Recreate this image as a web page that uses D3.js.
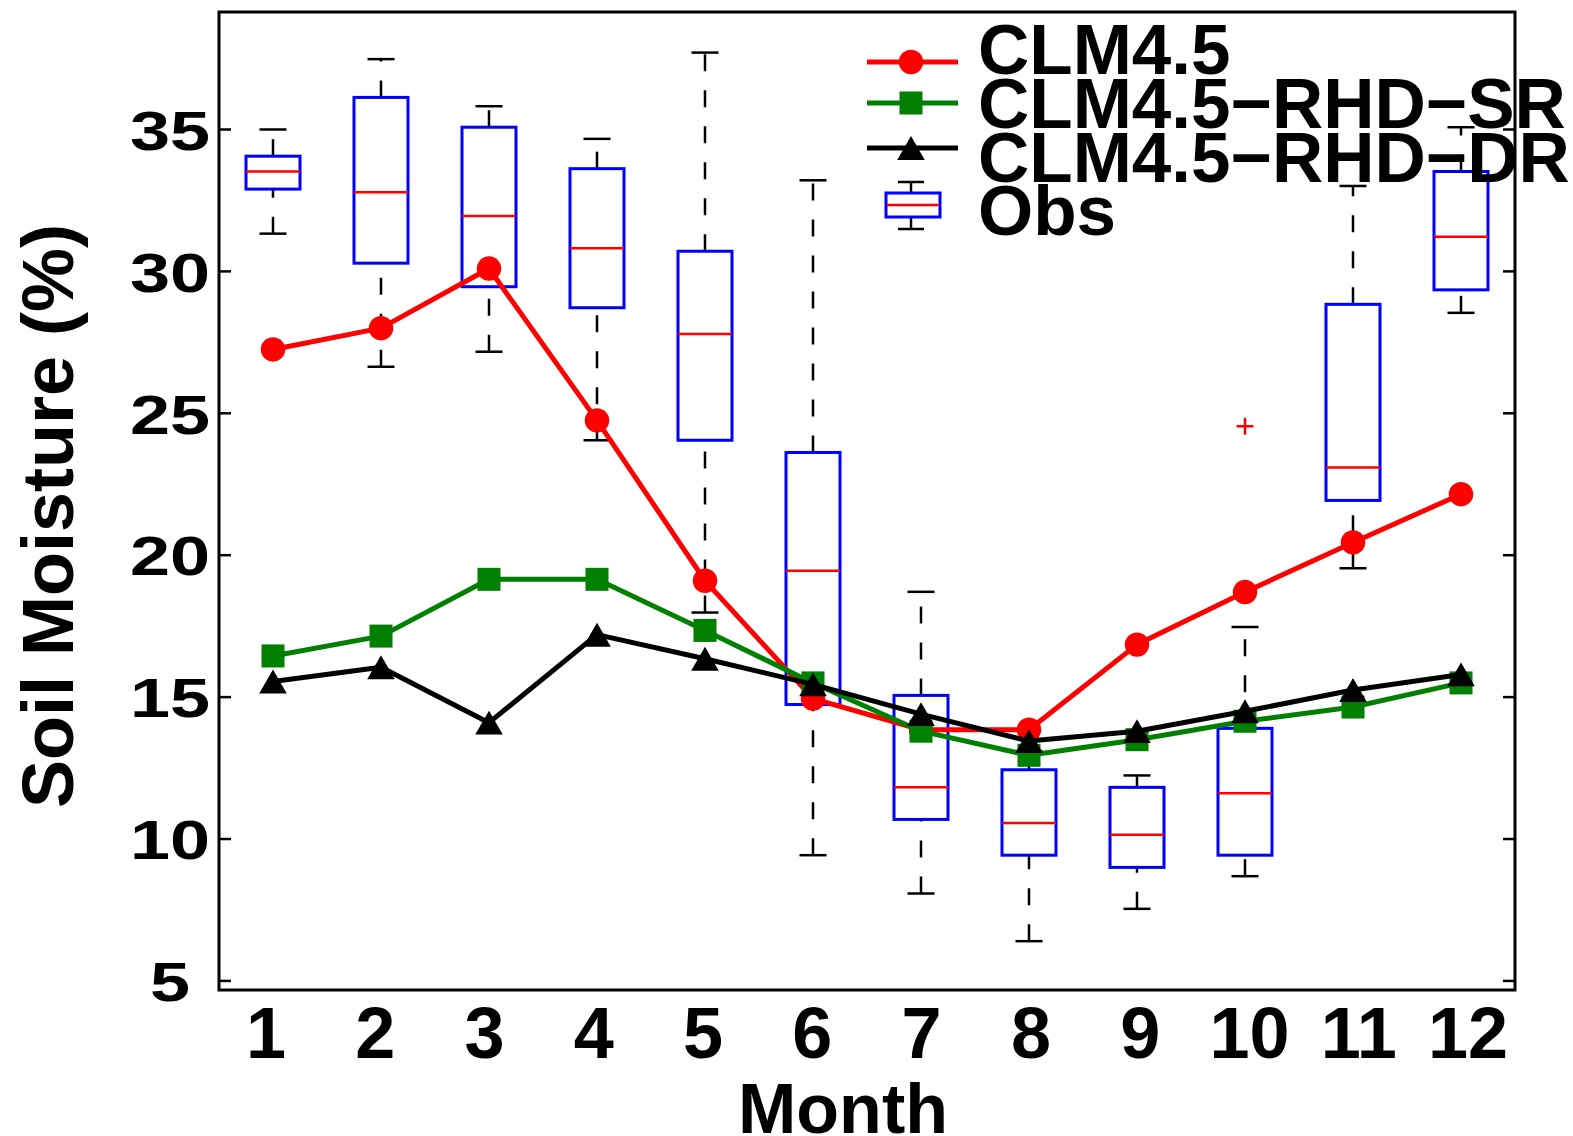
<!DOCTYPE html>
<html>
<head>
<meta charset="utf-8">
<script src="https://cdn.jsdelivr.net/npm/d3@7"></script>
<style>
  body { margin: 0; background: #fff; }
  svg text { font-family: "Liberation Sans", Arial, sans-serif; font-weight: bold; }
</style>
</head>
<body>
<script>
// monthly soil moisture (%)
var months = [1, 2, 3, 4, 5, 6, 7, 8, 9, 10, 11, 12];
var clm45 = [27.25, 28.0, 30.1, 24.75, 19.1, 14.95, 13.85, 13.85, 16.85, 18.7, 20.45, 22.15];
var clmSR = [16.45, 17.15, 19.15, 19.15, 17.35, 15.5, 13.8, 12.95, 13.5, 14.15, 14.65, 15.5];
var clmDR = [15.55, 16.05, 14.1, 17.2, 16.35, 15.45, 14.4, 13.45, 13.8, 14.5, 15.25, 15.8];

// observed boxplot stats
var obsMin = [31.33, 26.64, 27.17, 24.05, 17.98, 9.43, 8.08, 6.40, 7.54, 8.69, 19.54, 28.54];
var obsQ1  = [32.90, 30.29, 29.46, 28.72, 24.05, 14.74, 10.69, 9.43, 9.00, 9.43, 21.93, 29.35];
var obsMed = [33.52, 32.79, 31.95, 30.82, 27.79, 19.45, 11.82, 10.56, 10.15, 11.61, 23.09, 31.22];
var obsQ3  = [34.06, 36.13, 35.08, 33.62, 30.71, 23.62, 15.06, 12.44, 11.82, 13.90, 28.84, 33.52];
var obsMax = [35.00, 37.48, 35.82, 34.67, 37.71, 33.21, 18.71, 13.10, 12.24, 17.47, 33.01, 35.08];
var outlierMonths = [10];
var outlierValues = [24.54];

var yTicks = [5, 10, 15, 20, 25, 30, 35];
var seriesNames = ["CLM4.5", "CLM4.5\u2212RHD\u2212SR", "CLM4.5\u2212RHD\u2212DR", "Obs"];

// triangle centred on its bounding box (matlab style '^')
var symbolTri = {
    draw: function(ctx, size) {
        var s = Math.sqrt(size * 4 / Math.sqrt(3));
        var hh = s * Math.sqrt(3) / 2;
        ctx.moveTo(0, -hh / 2);
        ctx.lineTo(s / 2, hh / 2);
        ctx.lineTo(-s / 2, hh / 2);
        ctx.closePath();
    }
};

draw_chart();

function draw_chart() {
    var w = 1573, h = 1136;
    var axL = 219, axR = 1515, axT = 12, axB = 990;

    var svg = d3.select("body").append("svg")
        .attr("width", w)
        .attr("height", h);

    var x = d3.scaleLinear().domain([0.5, 12.5]).range([axL, axR]);
    var y = d3.scaleLinear().domain([4.68, 39.14]).range([axB, axT]);
    // the exported tick labels sit a little off the box centres
    var xLab = d3.scaleLinear().domain([1, 12]).range([266, 1468]);

    // y tick labels: centred, squashed vertically like the original export
    svg.append("g").selectAll("text")
        .data(yTicks).enter().append("text")
        .attr("transform", function(d) { return "translate(170," + y(d) + ") scale(1,0.78)"; })
        .attr("y", 26)
        .attr("text-anchor", "middle")
        .attr("font-size", 72)
        .text(function(d) { return d; });

    // x tick labels
    svg.append("g").selectAll("text")
        .data(months).enter().append("text")
        .attr("x", function(d) { return xLab(d); })
        .attr("y", 1058)
        .attr("text-anchor", "middle")
        .attr("font-size", 72)
        .text(function(d) { return d; });

    svg.append("text")
        .attr("x", 843).attr("y", 1133)
        .attr("text-anchor", "middle")
        .attr("font-size", 70)
        .text("Month");

    svg.append("text")
        .attr("transform", "translate(73,516) rotate(-90)")
        .attr("text-anchor", "middle")
        .attr("font-size", 72)
        .text("Soil Moisture (%)");

    // inward ticks on left and right
    var tk = svg.append("g").attr("stroke", "#000").attr("stroke-width", 2.5);
    tk.selectAll(".tl").data(yTicks).enter().append("line")
        .attr("x1", axL).attr("x2", axL + 12)
        .attr("y1", function(d) { return y(d); })
        .attr("y2", function(d) { return y(d); });
    tk.selectAll(".tr").data(yTicks).enter().append("line")
        .attr("x1", axR).attr("x2", axR - 12)
        .attr("y1", function(d) { return y(d); })
        .attr("y2", function(d) { return y(d); });

    // boxplots
    var boxW = x(1.25) - x(1);
    var capW = x(1.125) - x(1);
    var box = svg.append("g");
    months.forEach(function(m, i) {
        var cx = x(m);
        // whiskers: drawn from lower to higher value
        box.append("line")
            .attr("x1", cx).attr("x2", cx)
            .attr("y1", y(obsMin[i])).attr("y2", y(obsQ1[i]))
            .attr("stroke", "#000").attr("stroke-width", 2.5)
            .attr("stroke-dasharray", "17,19");
        box.append("line")
            .attr("x1", cx).attr("x2", cx)
            .attr("y1", y(obsQ3[i])).attr("y2", y(obsMax[i]))
            .attr("stroke", "#000").attr("stroke-width", 2.5)
            .attr("stroke-dasharray", "17,19");
        [obsMin[i], obsMax[i]].forEach(function(v) {
            box.append("line")
                .attr("x1", cx - capW).attr("x2", cx + capW)
                .attr("y1", y(v)).attr("y2", y(v))
                .attr("stroke", "#000").attr("stroke-width", 2.5);
        });
        box.append("rect")
            .attr("x", cx - boxW).attr("width", 2 * boxW)
            .attr("y", y(obsQ3[i]))
            .attr("height", y(obsQ1[i]) - y(obsQ3[i]))
            .attr("fill", "none")
            .attr("stroke", "#0000ff").attr("stroke-width", 3);
        box.append("line")
            .attr("x1", cx - boxW).attr("x2", cx + boxW)
            .attr("y1", y(obsMed[i])).attr("y2", y(obsMed[i]))
            .attr("stroke", "#ff0000").attr("stroke-width", 2.5);
    });

    outlierMonths.forEach(function(m, i) {
        var px = x(m), py = y(outlierValues[i]);
        box.append("path")
            .attr("d", "M" + (px - 8.5) + "," + py + "H" + (px + 8.5) + "M" + px + "," + (py - 8.5) + "V" + (py + 8.5))
            .attr("stroke", "#ff0000").attr("stroke-width", 2.5);
    });

    // model lines
    var line = d3.line()
        .x(function(d, i) { return x(months[i]); })
        .y(function(d) { return y(d); });

    var series = [
        { values: clm45, color: "#ff0000", marker: d3.symbolCircle, size: 470 },
        { values: clmSR, color: "#008000", marker: d3.symbolSquare, size: 530 },
        { values: clmDR, color: "#000000", marker: symbolTri, size: 330 }
    ];

    series.forEach(function(s) {
        var g = svg.append("g");
        g.append("path")
            .datum(s.values)
            .attr("d", line)
            .attr("fill", "none")
            .attr("stroke", s.color)
            .attr("stroke-width", 5)
            .attr("stroke-linejoin", "round");
        g.selectAll("path.mk")
            .data(s.values).enter().append("path")
            .attr("class", "mk")
            .attr("transform", function(d, i) { return "translate(" + x(months[i]) + "," + y(d) + ")"; })
            .attr("d", d3.symbol().type(s.marker).size(s.size))
            .attr("fill", s.color);
    });

    // axes box
    svg.append("rect")
        .attr("x", axL).attr("y", axT)
        .attr("width", axR - axL).attr("height", axB - axT)
        .attr("fill", "none")
        .attr("stroke", "#000").attr("stroke-width", 3);

    // legend
    var lg = svg.append("g");
    var rowY = [62, 103, 148];
    series.forEach(function(s, i) {
        lg.append("line")
            .attr("x1", 867).attr("x2", 958)
            .attr("y1", rowY[i]).attr("y2", rowY[i])
            .attr("stroke", s.color).attr("stroke-width", 5);
        lg.append("path")
            .attr("transform", "translate(911," + rowY[i] + ")")
            .attr("d", d3.symbol().type(s.marker).size(s.size))
            .attr("fill", s.color);
    });
    // obs legend icon
    lg.append("line").attr("x1", 911).attr("x2", 911).attr("y1", 182).attr("y2", 229)
        .attr("stroke", "#000").attr("stroke-width", 2.5);
    lg.append("line").attr("x1", 898).attr("x2", 924).attr("y1", 182).attr("y2", 182)
        .attr("stroke", "#000").attr("stroke-width", 2.5);
    lg.append("line").attr("x1", 898).attr("x2", 924).attr("y1", 229).attr("y2", 229)
        .attr("stroke", "#000").attr("stroke-width", 2.5);
    lg.append("rect").attr("x", 886).attr("y", 193).attr("width", 54).attr("height", 24)
        .attr("fill", "#fff").attr("stroke", "#0000ff").attr("stroke-width", 3);
    lg.append("line").attr("x1", 887).attr("x2", 939).attr("y1", 205).attr("y2", 205)
        .attr("stroke", "#ff0000").attr("stroke-width", 2.5);

    lg.selectAll("text.lab")
        .data(seriesNames).enter().append("text")
        .attr("class", "lab")
        .attr("x", 978)
        .attr("y", function(d, i) { return [74, 128, 182, 235][i]; })
        .attr("font-size", 71)
        .text(function(d) { return d; });
}
</script>
</body>
</html>
